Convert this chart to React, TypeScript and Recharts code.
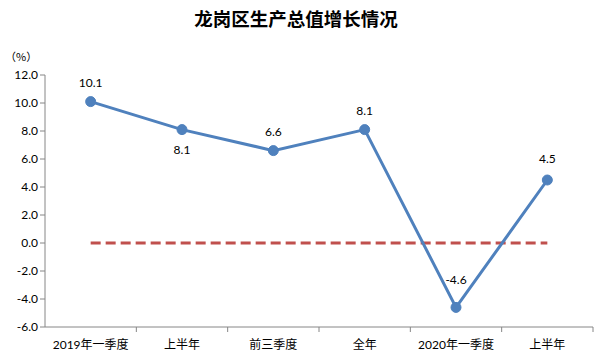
import { LabelList, Line, LineChart, XAxis, YAxis } from 'recharts';

const categories = ['2019年一季度', '上半年', '前三季度', '全年', '2020年一季度', '上半年'];
const growth = [10.1, 8.1, 6.6, 8.1, -4.6, 4.5];
const baseline = [0, 0, 0, 0, 0, 0];
const yTicks = [-6, -4, -2, 0, 2, 4, 6, 8, 10, 12];

const data = categories.map((name, i) => ({ key: i, name, growth: growth[i], zero: baseline[i] }));

const FONT = "Lato, 'Noto Sans CJK SC', sans-serif";
const AXIS = '#868686';
const BAND = 548 / 6;

function XTick(props: any) {
  const { x, y, payload } = props;
  return (
    <g>
      <line x1={x + BAND / 2} y1={y - 8} x2={x + BAND / 2} y2={y - 3} stroke={AXIS} />
      <text x={x} y={y + 14} textAnchor="middle" fontSize={12} fontFamily={FONT} fill="#000">
        {categories[payload.value]}
      </text>
    </g>
  );
}

function PointLabel(props: any) {
  const { x, y, index, value } = props;
  // second point is labelled underneath, the dip sits between the two lines
  const dy = index === 1 ? 24 : index === 4 ? -23 : index === 5 ? -17 : -15;
  return (
    <text x={x} y={y + dy} textAnchor="middle" fontSize={12} fontFamily={FONT} fill="#000">
      {Number(value).toFixed(1)}
    </text>
  );
}

export default function App() {
  return (
    <div style={{ position: 'absolute', left: 0, top: 0, width: 602, height: 359, background: '#fff' }}>
      <div
        style={{
          position: 'absolute',
          top: 5,
          left: 0,
          width: 592,
          textAlign: 'center',
          fontSize: 18.5,
          fontWeight: 'bold',
          whiteSpace: 'nowrap',
          fontFamily: "'Noto Sans CJK SC', sans-serif",
          color: '#000',
        }}
      >
        龙岗区生产总值增长情况
      </div>
      <div
        style={{
          position: 'absolute',
          left: 5,
          top: 48,
          fontSize: 11,
          fontFamily: "'Noto Sans CJK SC', sans-serif",
          color: '#000',
        }}
      >
        （%）
      </div>
      <LineChart width={602} height={359} data={data} margin={{ top: 75, right: 9, bottom: 0, left: 5 }}>
        <XAxis
          dataKey="key"
          type="category"
          height={32}
          padding={{ left: BAND / 2, right: BAND / 2 }}
          axisLine={{ stroke: AXIS }}
          tickLine={false}
          interval={0}
          tick={<XTick />}
        />
        <YAxis
          width={40}
          domain={[-6, 12]}
          ticks={yTicks}
          interval={0}
          tickFormatter={(v: number) => v.toFixed(1)}
          axisLine={{ stroke: AXIS }}
          tickLine={{ stroke: AXIS }}
          tickSize={5}
          tick={{ fontSize: 12, fontFamily: FONT, fill: '#000' }}
        />
        <Line
          dataKey="zero"
          stroke="#C0504D"
          strokeWidth={3}
          strokeDasharray="10 5"
          dot={false}
          activeDot={false}
          isAnimationActive={false}
        />
        <Line
          dataKey="growth"
          stroke="#4F81BD"
          strokeWidth={3}
          dot={{ r: 5, fill: '#4F81BD', stroke: '#4F81BD', strokeWidth: 1 }}
          activeDot={false}
          isAnimationActive={false}
        >
          <LabelList dataKey="growth" content={<PointLabel />} />
        </Line>
      </LineChart>
    </div>
  );
}
